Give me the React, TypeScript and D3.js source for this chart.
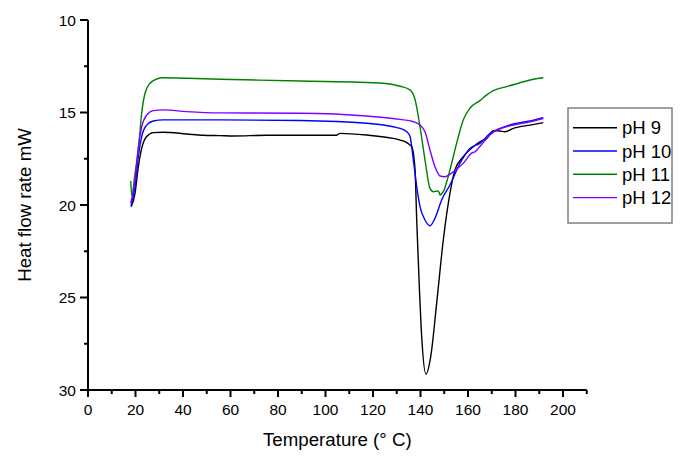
import React from "react";
import * as d3 from "d3";

const seriesNames = ["pH 9", "pH 10", "pH 11", "pH 12"];
const seriesColors = ["#000000", "#0000ff", "#008000", "#8000ff"];

const ph9: [number, number][] = [
  [18.2, 20.1], [19.8, 19.37], [21.2, 17.93], [22.6, 16.94], [24.7, 16.3], [27.5, 16.09], [31.7, 16.07],
  [41.5, 16.16], [48.5, 16.23], [55.6, 16.25], [61.2, 16.27], [75.2, 16.23], [104.7, 16.23], [106.1, 16.13],
  [117.3, 16.22], [128.5, 16.4], [131.4, 16.49], [134.2, 16.63], [136.3, 16.85], [137.7, 18.1], [138.4, 20.81],
  [139.5, 24.41], [140.5, 27.12], [142.3, 29.14], [144.3, 28.2], [146.8, 25.32], [149.6, 21.89], [150.3, 21.17],
  [152.4, 19.37], [154.5, 18.1], [158, 17.39], [162.2, 16.85], [165, 16.58], [167.9, 16.4], [170.7, 15.98],
  [173.5, 16.0], [175.6, 16.04], [179.1, 15.86], [186.1, 15.68], [191.7, 15.55],
];
const ph10: [number, number][] = [
  [18.1, 20.05], [19.8, 19.0], [21.2, 17.39], [22.6, 16.3], [24.7, 15.68], [27.5, 15.46], [31.7, 15.4],
  [55.6, 15.4], [89.3, 15.43], [117.3, 15.58], [128.5, 15.77], [131.4, 15.86], [134.2, 16.04], [135.6, 16.3],
  [137, 17.57], [138.4, 19.01], [139.8, 20.09], [141.9, 20.81], [144, 21.12], [146.1, 20.72], [148.9, 19.73],
  [152.4, 18.92], [156.6, 17.75], [160.8, 16.94], [165, 16.67], [169.3, 16.13], [173.5, 15.86], [179.1, 15.62],
  [186.1, 15.46], [191.7, 15.28],
];
const ph11: [number, number][] = [
  [18, 18.7], [18.4, 19.5], [19.8, 18.29], [21.2, 17.0], [22.6, 15.04], [24, 13.96], [26.1, 13.42], [28.9, 13.19],
  [31.7, 13.12], [41.5, 13.15], [55.6, 13.2], [89.3, 13.3], [124.3, 13.42], [131.4, 13.58], [135.6, 13.78],
  [137.7, 14.3], [139.8, 15.77], [141.9, 17.57], [144, 19.1], [145.4, 19.28], [147.1, 19.24], [147.9, 19.33],
  [148.2, 19.46], [149.6, 19.28], [152.4, 18.1], [155.2, 16.67], [158, 15.4], [160.8, 14.77], [165, 14.36],
  [167.9, 14.05], [170.7, 13.82], [176.3, 13.6], [181.9, 13.39], [187.5, 13.2], [191.7, 13.12],
];
const ph12: [number, number][] = [
  [18, 19.9], [19.8, 18.65], [21.2, 16.85], [22.6, 15.77], [24.7, 15.14], [27.5, 14.9], [31.7, 14.86],
  [41.5, 14.95], [55.6, 15.02], [89.3, 15.04], [117.3, 15.19], [131.4, 15.37], [137, 15.5], [139.8, 15.68],
  [141.9, 16.04], [144, 17.03], [146.1, 17.93], [148.2, 18.43], [150.3, 18.47], [153.8, 18.2], [158, 17.75],
  [161.5, 17.2], [163, 17.12], [164.3, 16.94], [167.9, 16.4], [169.3, 16.2], [173.5, 15.88], [179.1, 15.68],
  [186.1, 15.5], [191.7, 15.32],
];
const allSeries = [ph9, ph10, ph11, ph12];

const xMajorTicks = [0, 20, 40, 60, 80, 100, 120, 140, 160, 180, 200];
const xMinorTicks = [10, 30, 50, 70, 90, 110, 130, 150, 170, 190, 210];
const yMajorTicks = [10, 15, 20, 25, 30];
const yMinorTicks = [12.5, 17.5, 22.5, 27.5];

const xTitle = "Temperature (° C)";
const yTitle = "Heat flow rate mW";

export default function App() {
  const W = 690, H = 462;
  const x = d3.scaleLinear().domain([0, 210]).range([88, 586.75]);
  const y = d3.scaleLinear().domain([10, 30]).range([20, 390]);
  const line = d3
    .line<[number, number]>()
    .x((d) => x(d[0]))
    .y((d) => y(d[1]))
    .curve(d3.curveMonotoneX);
  const font = "Liberation Sans, Arial, sans-serif";
  const x0 = x(0), y1 = y(30);
  const legX = 568, legY = 108, legW = 104, legH = 115;
  return (
    <svg width={W} height={H} style={{ position: "absolute", left: 0, top: 0, background: "#fff" }} fontFamily={font}>
      <rect width={W} height={H} fill="#fff" />
      {allSeries.map((s, i) => (
        <path key={i} d={line(s) || ""} fill="none" stroke={seriesColors[i]} strokeWidth={1.4} />
      ))}
      {/* axes */}
      <line x1={x0} x2={x0} y1={y(10)} y2={y1} stroke="#000" strokeWidth={2} />
      <line x1={x0} x2={x(210)} y1={y1} y2={y1} stroke="#000" strokeWidth={2} />
      {yMajorTicks.map((t) => (
        <g key={"ym" + t}>
          <line x1={x0 - 8} x2={x0} y1={y(t)} y2={y(t)} stroke="#000" strokeWidth={2} />
          <text x={x0 - 12} y={y(t) + 5.5} fontSize={15.5} textAnchor="end">{t}</text>
        </g>
      ))}
      {yMinorTicks.map((t) => (
        <line key={"yn" + t} x1={x0 - 4} x2={x0} y1={y(t)} y2={y(t)} stroke="#000" strokeWidth={2} />
      ))}
      {xMajorTicks.map((t) => (
        <g key={"xm" + t}>
          <line x1={x(t)} x2={x(t)} y1={y1} y2={y1 + 7} stroke="#000" strokeWidth={2} />
          <text x={x(t)} y={y1 + 25} fontSize={15.5} textAnchor="middle">{t}</text>
        </g>
      ))}
      {xMinorTicks.map((t) => (
        <line key={"xn" + t} x1={x(t)} x2={x(t)} y1={y1} y2={y1 + 4} stroke="#000" strokeWidth={2} />
      ))}
      <text x={(x(0) + x(210)) / 2} y={446} fontSize={18.7} textAnchor="middle">{xTitle}</text>
      <text transform={`translate(31, ${(y(10) + y(30)) / 2}) rotate(-90)`} fontSize={18.7} textAnchor="middle">{yTitle}</text>
      {/* legend */}
      <rect x={legX} y={legY} width={legW} height={legH} fill="#fff" stroke="#808080" strokeWidth={1.5} />
      {seriesNames.map((n, i) => {
        const ry = 127.7 + i * 23.3;
        return (
          <g key={n}>
            <line x1={573} x2={617} y1={ry} y2={ry} stroke={seriesColors[i]} strokeWidth={1.4} />
            <text x={622} y={ry + 6.5} fontSize={18.5}>{n}</text>
          </g>
        );
      })}
    </svg>
  );
}
